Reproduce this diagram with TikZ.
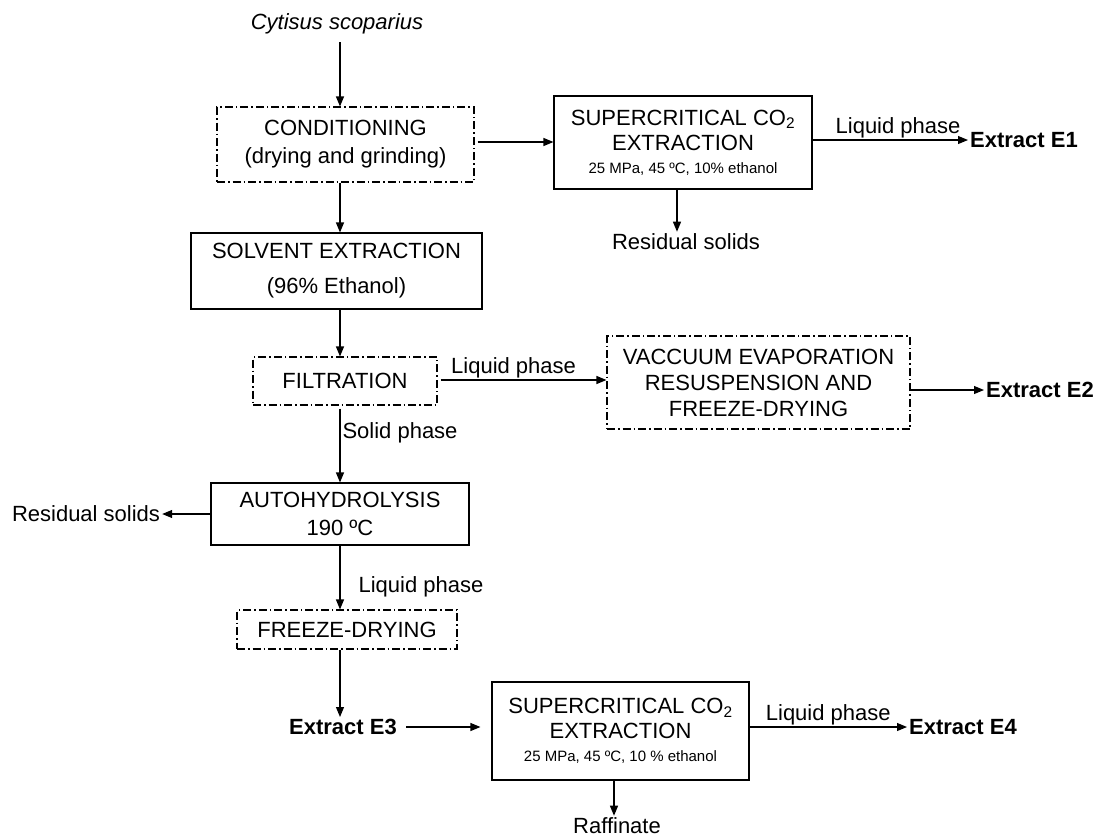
\documentclass[tikz,border=0pt]{standalone}
\usepackage{fontspec}
\setmainfont{Liberation Sans}
\usetikzlibrary{arrows.meta}
\begin{document}
\begin{tikzpicture}[x=1pt,y=-1pt,
  every node/.style={font=\fontsize{22}{28}\selectfont, inner sep=2pt},
  sbox/.style={draw, line width=1.1pt, align=center, inner sep=0pt},
  dbox/.style={draw, line width=1.1pt, align=center, inner sep=0pt, dash pattern=on 8pt off 3pt on 1.5pt off 3pt},
  lbl/.style={},
  res/.style={font=\fontsize{22}{28}\selectfont\bfseries},
  arr/.style={line width=1.1pt, -{Triangle[length=10pt,width=8pt]}}]
\useasboundingbox (0,0) rectangle (1096,839);
\coordinate (sp) at (340,0);
\coordinate (r1) at (677,0);
\coordinate (r2) at (614,0);

\node[lbl, font=\fontsize{22}{28}\selectfont\itshape] (cyt) at (337,24) {Cytisus scoparius};
\node[dbox, minimum width=257pt, minimum height=75pt] (cond) at (345.5,144.5) {CONDITIONING\\(drying and grinding)};
\node[sbox, minimum width=258pt, minimum height=93pt] (sc1) at (683,142.5) {SUPERCRITICAL CO\textsubscript{2}\\[-3pt]EXTRACTION\\[-5pt]{\fontsize{15}{18}\selectfont 25 MPa, 45 ºC, 10\% ethanol}};
\node[res] (e1) at (1024,140) {Extract E1};
\node[lbl] (rs1) at (686,242) {Residual solids};
\node[sbox, minimum width=291pt, minimum height=76pt] (solv) at (336.5,271) {SOLVENT EXTRACTION\\[7pt](96\% Ethanol)};
\node[dbox, minimum width=184pt, minimum height=48pt] (filt) at (345,381) {FILTRATION};
\node[dbox, minimum width=303pt, minimum height=93pt] (ve) at (758.5,382.5) {VACCUUM EVAPORATION\\[-2pt]RESUSPENSION AND\\[-2pt]FREEZE-DRYING};
\node[res] (e2) at (1040,390) {Extract E2};
\node[sbox, minimum width=258pt, minimum height=62pt] (auto) at (340,514) {AUTOHYDROLYSIS\\190 ºC};
\node[lbl] (rs2) at (86,514) {Residual solids};
\node[dbox, minimum width=220pt, minimum height=39pt] (fd) at (347,629.5) {FREEZE-DRYING};
\node[res] (e3) at (343,727) {Extract E3};
\node[sbox, minimum width=257pt, minimum height=98pt] (sc2) at (620.5,731) {SUPERCRITICAL CO\textsubscript{2}\\[-3pt]EXTRACTION\\[-5pt]{\fontsize{15}{18}\selectfont 25 MPa, 45 ºC, 10 \% ethanol}};
\node[res] (e4) at (963,727) {Extract E4};
\node[lbl] (raf) at (617,826) {Raffinate};

\draw[arr, shorten <=6pt] (cyt.south -| sp) -- (cond.north -| sp);
\draw[arr, shorten <=3pt] (cond.east |- 0,142) -- (sc1.west |- 0,142);
\draw[arr] (sc1.east |- e1.west) -- (e1.west)
  node[lbl, pos=0.55, anchor=south, inner sep=1pt] (lp1) {Liquid phase};
\draw[arr] (sc1.south -| r1) -- (rs1.north -| r1);
\draw[arr] (cond.south -| sp) -- (solv.north -| sp);
\draw[arr] (solv.south -| sp) -- (filt.north -| sp);
\draw[arr, shorten <=3pt] (filt.east |- 0,380) -- (ve.west |- 0,380)
  node[lbl, pos=0.45, anchor=south, inner sep=1pt] (lp2) {Liquid phase};
\draw[arr] (ve.east |- e2.west) -- (e2.west);
\draw[arr, shorten <=3pt] (filt.south -| sp) -- (auto.north -| sp)
  node[lbl, pos=0.36, anchor=west, inner sep=2pt] (sph) {Solid phase};
\draw[arr] (auto.west) -- (rs2.east |- auto.west);
\draw[arr] (auto.south -| sp) -- (fd.north -| sp)
  node[lbl, pos=0.65, anchor=west, inner sep=18pt] (lp3) {Liquid phase};
\draw[arr] (fd.south -| sp) -- (e3.north -| sp);
\draw[arr, shorten <=7pt, shorten >=11pt] (e3.east) -- (sc2.west |- e3.east);
\draw[arr] (sc2.east |- e4.west) -- (e4.west)
  node[lbl, pos=0.5, anchor=south, inner sep=1pt] (lp4) {Liquid phase};
\draw[arr] (sc2.south -| r2) -- (raf.north -| r2);
\end{tikzpicture}
\end{document}
